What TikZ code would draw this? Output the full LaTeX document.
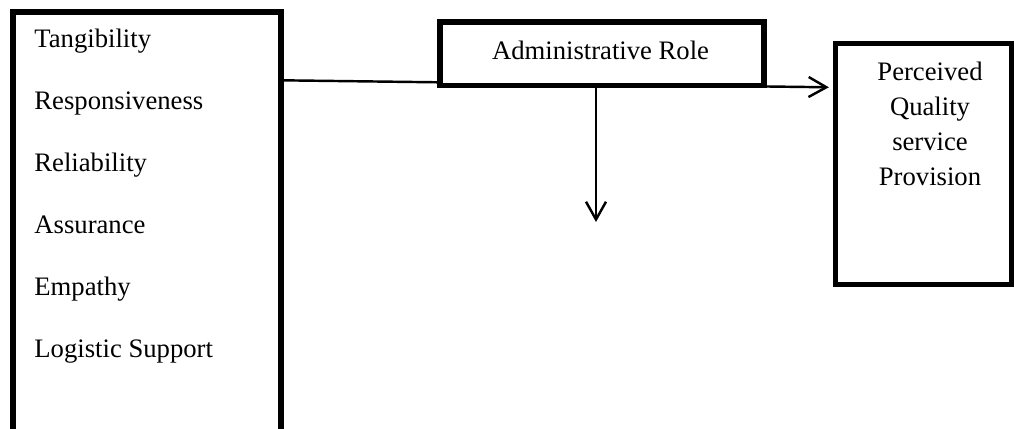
\documentclass[tikz,border=0pt]{standalone}
\usepackage{fontspec}
\setmainfont{Liberation Serif}
\usetikzlibrary{arrows.meta,calc}

\tikzset{
  box/.style={draw=black, line width=2.4pt, fill=white, inner sep=0pt},
  dimtext/.style={anchor=base west, inner sep=0pt, font=\fontsize{12}{14}\selectfont},
  midtext/.style={anchor=base, inner sep=0pt, font=\fontsize{12}{14}\selectfont},
  link/.style={draw=black, line width=1.1pt, -{Straight Barb[length=8pt,width=9pt]}},
}

\begin{document}
\begin{tikzpicture}[x=0.45pt, y=-0.45pt]
    \useasboundingbox (0,0) rectangle (1014,428);
    \clip (0,0) rectangle (1014,428);

    % the three boxes
    \node[box, minimum width=120.6pt, minimum height=206.1pt] (dims) at (147,241) {};
    \node[box, minimum width=79.4pt, minimum height=108.5pt] (quality) at (923.75,164) {};
    \draw[link] ($(dims.north east)+(0,71)$) -- ($(quality.north west)+(-4,46.5)$);
    \node[box, minimum width=145.8pt, minimum height=28.6pt] (role) at (602,53.75) {};

    \coordinate (down) at (596,222);
    \draw[link] (role.south -| down) -- (down);

    % texts
    \node[dimtext] (tang) at (34,47) {Tangibility};
    \node[dimtext] (resp) at (34,109) {Responsiveness};
    \node[dimtext] (reli) at (34,171) {Reliability};
    \node[dimtext] (assu) at (34,233) {Assurance};
    \node[dimtext] (empa) at (34,295) {Empathy};
    \node[dimtext] (logi) at (34,357) {Logistic Support};

    \node[midtext] (roletitle) at (600.5,59) {Administrative Role};

    \node[midtext] (perc) at (930,80) {Perceived};
    \node[midtext] (qual) at (930,115) {Quality};
    \node[midtext] (serv) at (930,150) {service};
    \node[midtext] (prov) at (930,185) {Provision};
\end{tikzpicture}
\end{document}
